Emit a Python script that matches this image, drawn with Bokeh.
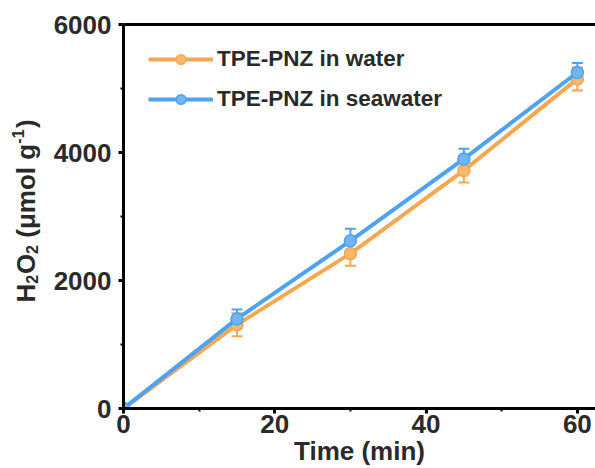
import math
from bokeh.plotting import figure
from bokeh.layouts import row
from bokeh.models import (ColumnDataSource, Whisker, TeeHead, Legend, LegendItem,
                          LinearAxis, FixedTicker, Range1d)
from bokeh.core.properties import value
from bokeh.embed import file_html
from bokeh.resources import INLINE

# ---- data ----
time_min = [0, 15, 30, 45, 60]
water = [0, 1310, 2420, 3720, 5150]
water_err = [0, 180, 190, 190, 180]
seawater = [0, 1400, 2620, 3900, 5250]
seawater_err = [0, 145, 190, 160, 150]
series_names = ["TPE-PNZ in water", "TPE-PNZ in seawater"]
x_ticks = [0, 20, 40, 60]
x_minor = [10, 30, 50]
y_ticks = [0, 2000, 4000, 6000]
y_minor = [1000, 3000, 5000]
x_title = "Time (min)"
y_title_parts = ["H", "2", "O", "2", "(\u03bcmol g", "-1", ")"]

FONT = "Liberation Sans"
ORANGE = "#F7A652"
ORANGE_FILL = "#F9B76C"
BLUE = "#4DA2F3"
BLUE_FILL = "#72B5F6"
TXT = "#2a2a2a"

LEFT_W = 45
TOTAL_W, TOTAL_H = 595, 468
B_TOP, B_BOT = 24, 60
FRAME_H = TOTAL_H - B_TOP - B_BOT

# ---- y-axis title panel (rotated rich text with sub/superscripts) ----
lab = figure(width=LEFT_W, height=TOTAL_H, output_backend="svg", toolbar_location=None,
             x_range=Range1d(0, LEFT_W), y_range=Range1d(0, FRAME_H),
             x_axis_location=None, y_axis_location=None,
             min_border=0, min_border_left=0, min_border_right=0,
             min_border_top=B_TOP, min_border_bottom=B_BOT)
lab.outline_line_color = None
lab.xgrid.visible = False
lab.ygrid.visible = False
# layout of the pieces (pixel positions in this panel's frame; y from frame bottom)
piece_y = [106, 124.8, 134.4, 154.6, 170.8, 264.8, 280.4]
piece_x = [10, 25.5, 10, 25.5, 10, 11.5, 10]
piece_fs = ["26px", "16px", "26px", "16px", "26px", "16px", "26px"]
for txt, yy, xx, fs in zip(y_title_parts, piece_y, piece_x, piece_fs):
    lab.text(x=[xx], y=[yy], text=[txt], angle=math.pi / 2,
             text_font=value(FONT), text_font_style="bold", text_font_size=fs,
             text_color=TXT, text_align="left", text_baseline="top")

# ---- main plot ----
p = figure(width=TOTAL_W - LEFT_W, height=TOTAL_H, output_backend="svg", toolbar_location=None,
           x_range=Range1d(0, 62.4), y_range=Range1d(0, 6000),
           min_border_left=123 - LEFT_W, min_border_right=0, min_border_top=B_TOP,
           min_border_bottom=B_BOT)
p.outline_line_color = None
p.xgrid.visible = False
p.ygrid.visible = False

for ax, ticks, minor in ((p.xaxis[0], x_ticks, x_minor), (p.yaxis[0], y_ticks, y_minor)):
    ax.ticker = FixedTicker(ticks=ticks, minor_ticks=minor)
    ax.axis_line_width = 3
    ax.axis_line_color = "black"
    ax.major_tick_line_width = 3
    ax.major_tick_line_color = "black"
    ax.major_tick_out = 5
    ax.major_tick_in = 0
    ax.minor_tick_line_width = 2
    ax.minor_tick_line_color = "black"
    ax.minor_tick_out = 3
    ax.minor_tick_in = 0
    ax.major_label_text_font = FONT
    ax.major_label_text_font_style = "bold"
    ax.major_label_text_font_size = "26px"
    ax.major_label_text_color = TXT
p.xaxis[0].major_label_standoff = 1
p.yaxis[0].major_label_standoff = 7
p.xaxis[0].axis_label = x_title
p.xaxis[0].axis_label_text_font = FONT
p.xaxis[0].axis_label_text_font_style = "bold"
p.xaxis[0].axis_label_text_font_size = "26px"
p.xaxis[0].axis_label_text_color = TXT
p.xaxis[0].axis_label_standoff = 0

top = LinearAxis(axis_line_width=3, axis_line_color="black",
                 major_tick_line_color=None, minor_tick_line_color=None,
                 major_label_text_font_size="0px")
p.add_layout(top, "above")


def draw(y, err, color, fill):
    src = ColumnDataSource(dict(x=time_min, y=y,
                                upper=[a + b for a, b in zip(y, err)],
                                lower=[a - b for a, b in zip(y, err)]))
    ln = p.line("x", "y", source=src, line_color=color, line_width=4)
    wh = Whisker(base="x", upper="upper", lower="lower", source=src, dimension="height",
                 line_color=color, line_width=2,
                 upper_head=TeeHead(size=11, line_color=color, line_width=2),
                 lower_head=TeeHead(size=11, line_color=color, line_width=2))
    p.add_layout(wh)
    mk = p.scatter("x", "y", source=src, size=12, fill_color=fill, line_color=color,
                   line_width=1.5)
    return ln, mk


r1 = draw(water, water_err, ORANGE, ORANGE_FILL)
r2 = draw(seawater, seawater_err, BLUE, BLUE_FILL)

legend = Legend(items=[LegendItem(label=series_names[0], renderers=list(r1)),
                       LegendItem(label=series_names[1], renderers=list(r2))],
                location=(25, 296), label_text_font=FONT, label_text_font_style="bold",
                label_text_font_size="22.5px", label_text_color=TXT,
                glyph_width=65, glyph_height=24, label_height=24, spacing=14,
                padding=0, margin=0, border_line_color=None, background_fill_alpha=0,
                label_standoff=4)
p.add_layout(legend, "center")

layout = row(lab, p, spacing=0)
open("out.html", "w").write(file_html(layout, INLINE))
